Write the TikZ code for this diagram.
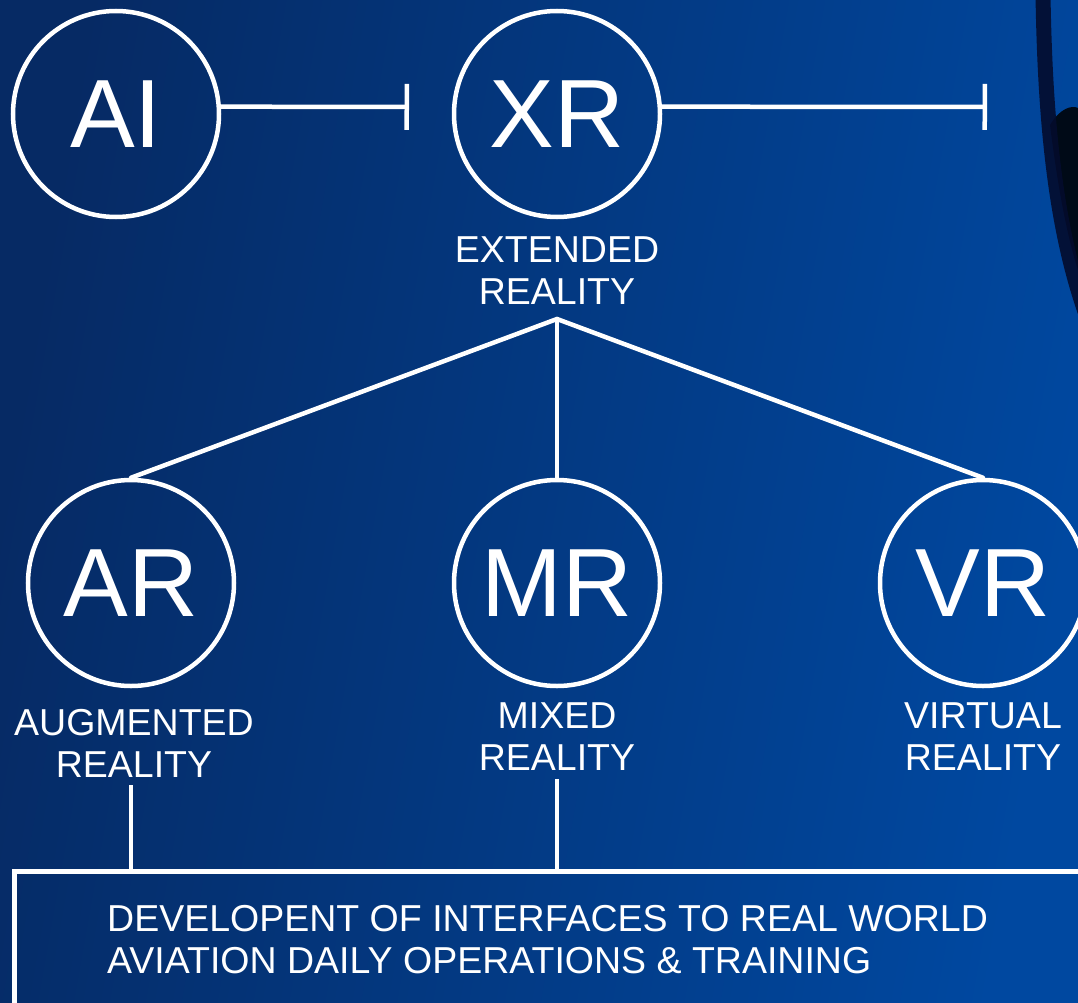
\documentclass[tikz,border=0pt]{standalone}
\usepackage{fontspec}
\setmainfont{Liberation Sans}
\usetikzlibrary{arrows.meta}
\definecolor{bgL}{RGB}{6,42,100}
\definecolor{bgR}{RGB}{0,72,160}
\definecolor{rim}{RGB}{4,12,45}
\tikzset{
  bubble/.style={circle, draw=white, line width=4.5pt, minimum size=206pt, inner sep=0pt,
    text=white, font=\fontsize{97}{97}\selectfont},
  lbl/.style={text=white, align=center, font=\fontsize{37.5}{42}\selectfont, inner sep=0pt},
  wire/.style={draw=white, line width=4.5pt},
  teeend/.style={-{Bar[width=46pt]}},
}
\begin{document}
\begin{tikzpicture}[x=1pt,y=-1pt]
\useasboundingbox (0,0) rectangle (1078,1003);
\clip (0,0) rectangle (1078,1003);
\shade[left color=bgL, right color=bgR, shading angle=80] (0,0) rectangle (1078,1003);
% dark rim of a photographed object at the right edge
\fill[black, opacity=0.85] (1050,125) .. controls (1060,108) and (1072,105) .. (1078,108)
  -- (1078,270) .. controls (1068,240) and (1058,190) .. cycle;
\draw[rim, opacity=0.9, line width=15pt] (1043,-5) .. controls (1045,120) and (1055,230) .. (1088,320);

\node[bubble] (ai) at (116,114) {AI};
\node[bubble] (xr) at (557,114) {XR};
\node[bubble] (ar) at (131,583) {AR};
\node[bubble] (mr) at (557,583) {MR};
\node[bubble] (vr) at (983,583) {VR};

\node[lbl] (xrl) at (557,271) {EXTENDED\\REALITY};
\node[lbl] (arl) at (134,743) {AUGMENTED\\REALITY};
\node[lbl] (mrl) at (557,737) {MIXED\\REALITY};
\node[lbl] (vrl) at (983,737) {VIRTUAL\\REALITY};

\coordinate (t1) at (409,107);
\coordinate (t2) at (987,107);
\coordinate (apex) at (557,319);

\draw[wire, teeend] (ai.4) -- (t1);
\draw[wire, teeend] (xr.4) -- (t2);

\draw[wire, line cap=round] (apex) -- (ar.north);
\draw[wire] (apex) -- (mr.north);
\draw[wire, line cap=round] (apex) -- (vr.north);

\node[draw=white, line width=5pt, minimum width=1100pt, minimum height=200pt, anchor=north west, inner sep=0pt] (box) at (12,869) {};
\node[text=white, align=left, anchor=north west, inner sep=0pt, font=\fontsize{37.5}{42}\selectfont] (boxt) at (107,905)
  {DEVELOPENT OF INTERFACES TO REAL WORLD\\AVIATION DAILY OPERATIONS \& TRAINING};

\draw[wire] (ar.center |- arl.south) ++(0,8) -- (ar.center |- box.north);
\draw[wire] (mr.center |- mrl.south) ++(0,8) -- (mr.center |- box.north);
\end{tikzpicture}
\end{document}
